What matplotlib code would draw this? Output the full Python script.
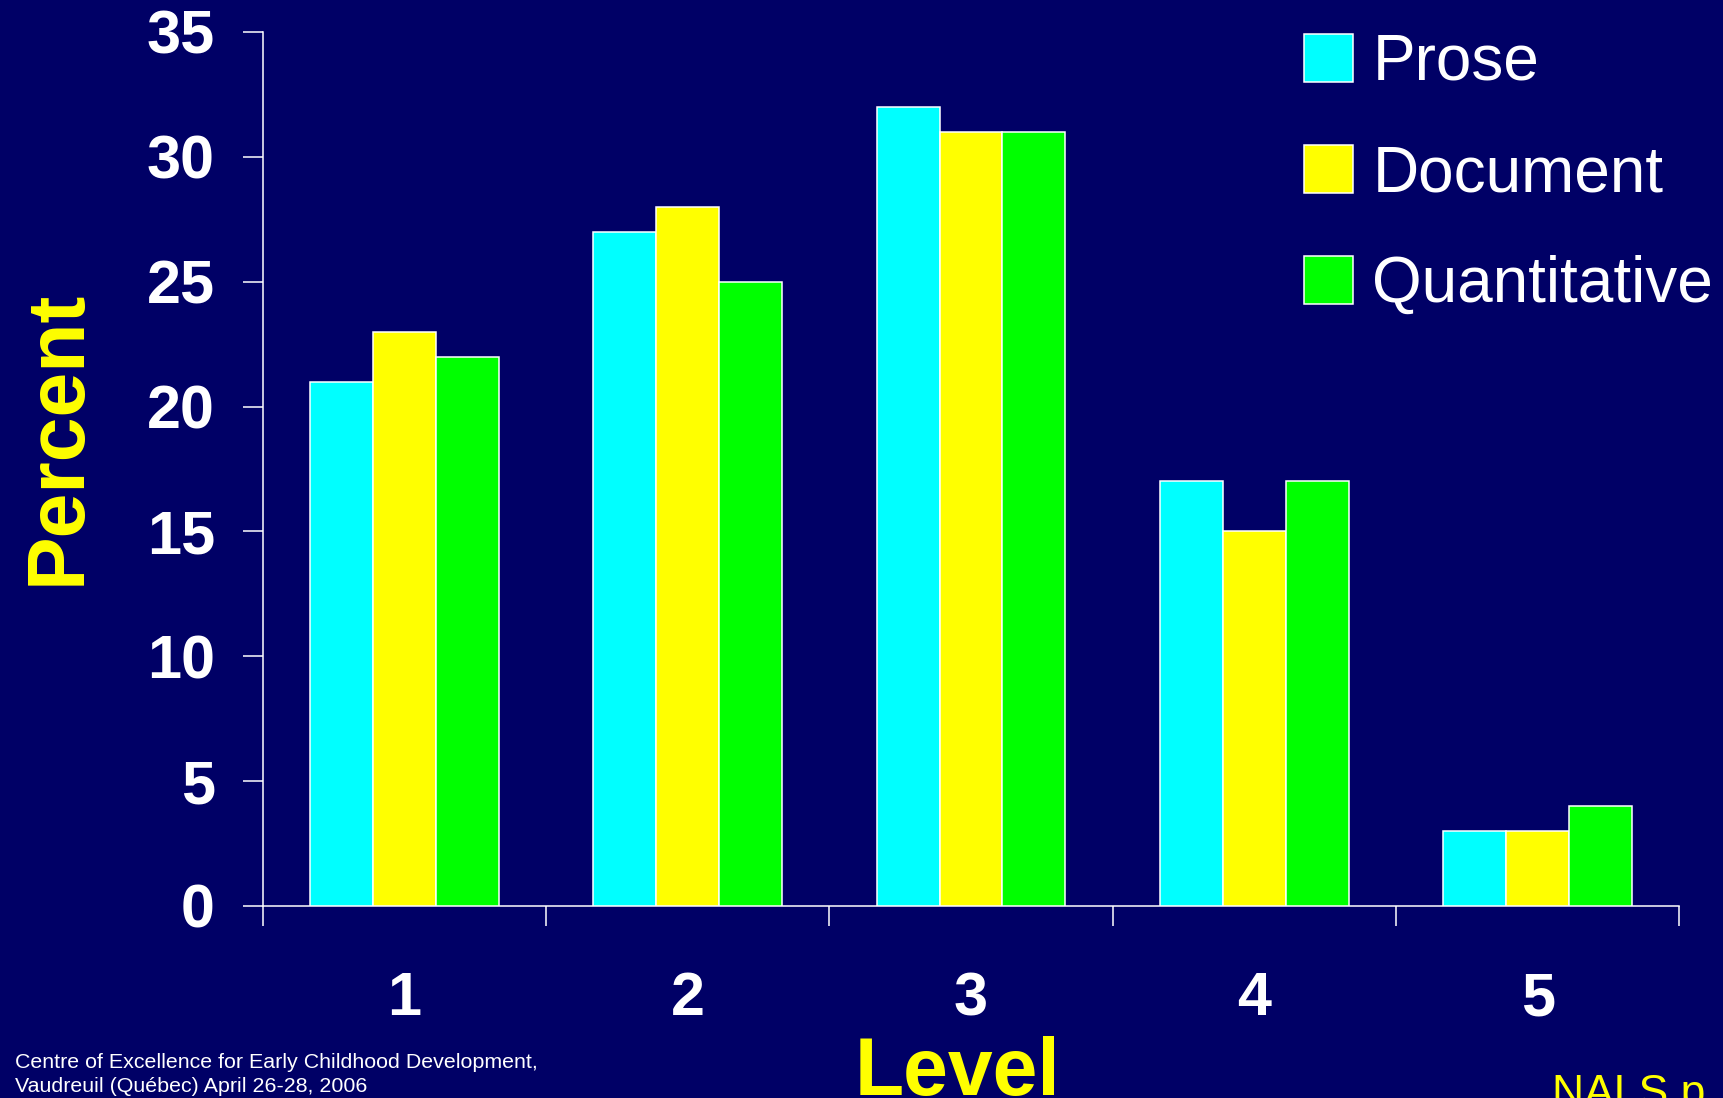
import matplotlib
matplotlib.use("Agg")
import matplotlib.pyplot as plt
import numpy as np
from matplotlib.patches import Patch

levels = ["1", "2", "3", "4", "5"]
series_names = ["Prose", "Document", "Quantitative"]
prose = [21, 27, 32, 17, 3]
document = [23, 28, 31, 15, 3]
quantitative = [22, 25, 31, 17, 4]
y_ticks = [0, 5, 10, 15, 20, 25, 30, 35]

colors = ["#00FFFF", "#FFFF00", "#00FF00"]
bg = "#000066"

plt.rcParams['font.family'] = ['Liberation Sans', 'DejaVu Sans']

W, H = 1723, 1098
fig = plt.figure(figsize=(W / 100, H / 100), dpi=100, facecolor=bg)
ax = fig.add_axes([262.7 / W, 192 / H, 1416.6 / W, 874 / H])
ax.set_facecolor(bg)

x = np.arange(len(levels))
bw = 2 / 9
for i, (vals, c) in enumerate(zip([prose, document, quantitative], colors)):
    ax.bar(x + (i - 1) * bw, vals, width=bw, color=c, edgecolor="white",
           linewidth=1.1, zorder=3)

ax.set_xlim(-0.5, len(levels) - 0.5)
ax.set_ylim(0, 35)
for s in ["top", "right"]:
    ax.spines[s].set_visible(False)
for s in ["left", "bottom"]:
    ax.spines[s].set_color("white")
    ax.spines[s].set_linewidth(1.1)

ax.set_yticks(y_ticks)
ax.set_yticklabels([str(v) for v in y_ticks])
ax.tick_params(axis="y", direction="out", length=14.4, width=1.1, color="white",
               labelcolor="white", labelsize=44, pad=20)
for t in ax.get_yticklabels():
    t.set_fontweight("bold")

ax.set_xticks(np.arange(-0.5, len(levels), 1.0))
ax.set_xticklabels([])
ax.tick_params(axis="x", which="major", direction="out", length=14.4, width=1.1,
               color="white")
ax.set_xticks(x, minor=True)
ax.set_xticklabels(levels, minor=True)
ax.tick_params(axis="x", which="minor", length=0, labelcolor="white",
               labelsize=44, pad=47)
for t in ax.get_xticklabels(minor=True):
    t.set_fontweight("bold")

fig.text(957 / W, 3 / H, "Level", color="#FFFF00", fontsize=58,
         fontweight="bold", ha="center", va="baseline")
fig.text(80 / W, 661 / H, "Percent", color="#FFFF00", fontsize=58,
         fontweight="bold", ha="center", va="baseline", rotation=90,
         rotation_mode="anchor")

handles = [Patch(facecolor=c, edgecolor="white", linewidth=1.1) for c in colors]
fig.legend(handles, series_names, loc="upper left",
           bbox_to_anchor=(1304 / W, 1 - 33 / H), frameon=False,
           borderpad=0, borderaxespad=0, fontsize=46,
           handlelength=0.77, handleheight=0.77, handletextpad=0.3,
           labelspacing=0.8, labelcolor="white")

fig.text(15 / W, 30 / H, "Centre of Excellence for Early Childhood Development,",
         color="white", fontsize=15.4, ha="left", va="baseline")
fig.text(15 / W, 6 / H, "Vaudreuil (Québec) April 26-28, 2006",
         color="white", fontsize=15.4, ha="left", va="baseline")
fig.text(1552 / W, -8 / H, "NALS p", color="#FFFF00", fontsize=32,
         ha="left", va="baseline")

fig.savefig("out.png", dpi=100, facecolor=bg)
